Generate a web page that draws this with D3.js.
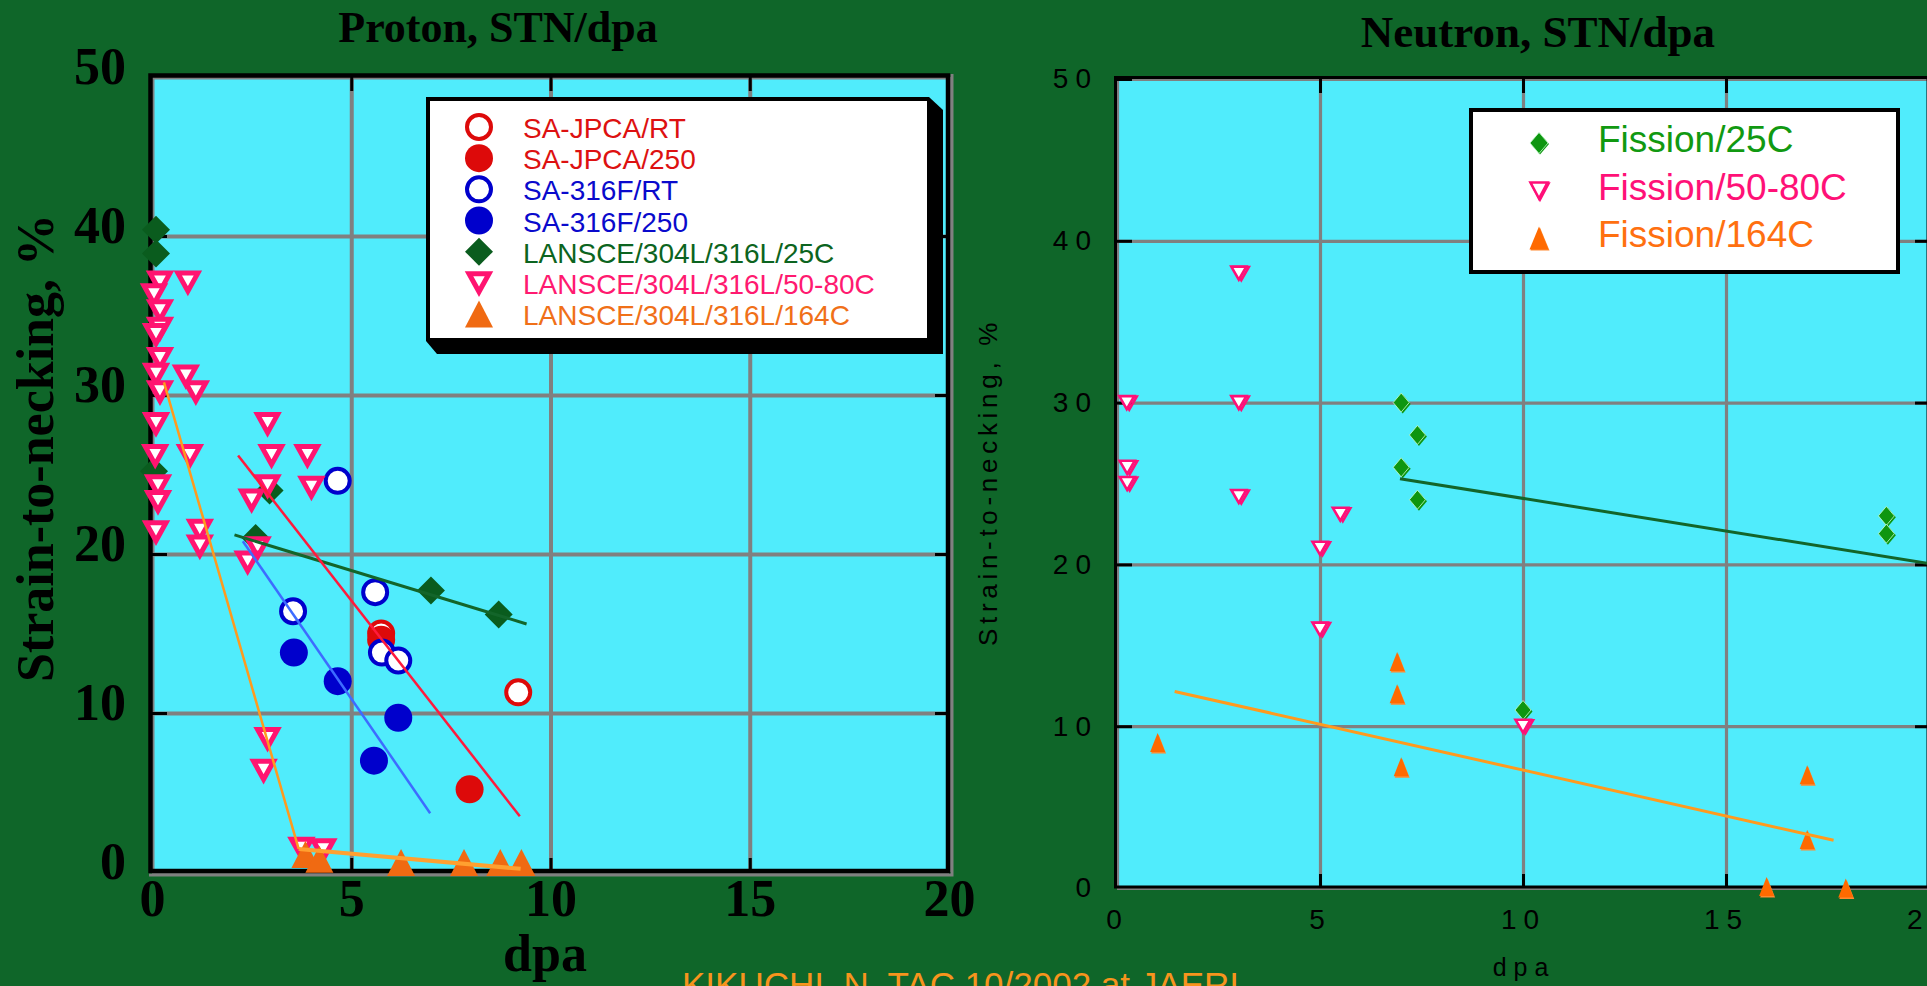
<!DOCTYPE html>
<html>
<head>
<meta charset="utf-8">
<script src="https://cdn.jsdelivr.net/npm/d3@7"></script>
<style>
  html, body { margin: 0; padding: 0; background: #0f6629; }
  svg { display: block; }
</style>
</head>
<body>
<svg id="chart" width="1927" height="986"></svg>
<script>
// ---------------- data ----------------
const xTicks = [0, 5, 10, 15, 20];
const yTicks = [0, 10, 20, 30, 40, 50];

// Proton irradiation, [dpa, strain-to-necking %]
const saJpcaRT  = [[5.75, 15.0], [9.19, 11.3]];
const saJpca250 = [[5.75, 14.6], [7.97, 5.2]];
const sa316fRT  = [[4.66, 24.6], [5.6, 17.6], [3.54, 16.4], [5.77, 13.8], [6.18, 13.3]];
const sa316f250 = [[3.56, 13.8], [4.66, 12.0], [6.18, 9.7], [5.57, 7.0]];
const lansce25  = [[0.1, 40.4], [0.1, 38.9], [0.05, 25.2], [2.95, 24.0], [2.6, 21.0], [7.0, 17.7], [8.7, 16.2]];
const lansce5080 = [
  [0.2, 37.1], [0.9, 37.1], [0.05, 36.3], [0.2, 35.3], [0.2, 34.2], [0.1, 33.8],
  [0.2, 32.3], [0.1, 31.3], [0.85, 31.2], [1.1, 30.2], [0.2, 30.2], [0.1, 28.2],
  [2.9, 28.2], [0.08, 26.2], [0.95, 26.2], [3.0, 26.2], [3.9, 26.2], [0.15, 24.3],
  [2.9, 24.3], [4.0, 24.2], [2.5, 23.4], [0.15, 23.3], [0.1, 21.4], [1.2, 21.5],
  [1.2, 20.5], [2.65, 20.4], [2.4, 19.5], [2.9, 8.4], [2.8, 6.4], [3.75, 1.5], [4.3, 1.4]
];
const lansce164 = [[3.85, 1.1], [4.2, 0.8], [6.25, 0.6], [7.83, 0.6], [8.74, 0.6], [9.27, 0.6]];

// Proton trend lines (end points)
const fitLansce25  = [[2.07, 21.2], [9.4, 15.6]];
const fitSa316f    = [[2.28, 20.8], [6.98, 3.7]];
const fitSaJpca    = [[2.16, 26.2], [9.23, 3.5]];
const fitLowTemp   = [[0.3, 30.8], [3.68, 1.45]];
const fitLansce164 = [[3.68, 1.45], [9.25, 0.2]];

// Fission neutron irradiation, [dpa, strain-to-necking %]
const fission25   = [[7.0, 30.0], [7.4, 28.0], [7.0, 26.0], [7.4, 24.0], [18.95, 23.0], [18.95, 21.9], [10.0, 11.0]];
const fission5080 = [[0.24, 30.0], [3.0, 30.0], [3.0, 38.0], [0.25, 26.0], [0.25, 25.0], [3.0, 24.2],
                     [5.5, 23.1], [5.0, 21.0], [5.0, 16.0], [10.0, 10.0]];
const fission164  = [[1.0, 9.0], [6.9, 14.0], [6.9, 12.0], [7.0, 7.5], [17.0, 7.0], [17.0, 3.0], [16.0, 0.1], [17.95, 0.0]];

// Neutron trend lines
const fitFission25  = [[6.97, 25.3], [20, 20.05]];
const fitFission164 = [[1.42, 12.15], [17.65, 2.95]];

const protonLegend  = ["SA-JPCA/RT", "SA-JPCA/250", "SA-316F/RT", "SA-316F/250",
                       "LANSCE/304L/316L/25C", "LANSCE/304L/316L/50-80C", "LANSCE/304L/316L/164C"];
const neutronLegend = ["Fission/25C", "Fission/50-80C", "Fission/164C"];

// ---------------- setup ----------------
const svg = d3.select("#chart");
const SERIF = "'Liberation Serif', 'Times New Roman', serif";
const SANS = "'Liberation Sans', Arial, sans-serif";

const xL = d3.scaleLinear().domain([0, 20]).range([152, 949]);
const yL = d3.scaleLinear().domain([0, 50]).range([872, 77]);
const xR = d3.scaleLinear().domain([0, 20]).range([1117, 1929]);
const yR = d3.scaleLinear().domain([0, 50]).range([888, 79]);

const shape = {
  circle: r => `M${-r},0A${r},${r} 0 1,0 ${r},0A${r},${r} 0 1,0 ${-r},0Z`,
  diamond: (w, h) => `M0,${-h}L${w},0L0,${h}L${-w},0Z`,
  triDown: (w, h) => `M${-w},${-h}L${w},${-h}L0,${h}Z`,
  triUp: (w, h) => `M${-w},${h}L${w},${h}L0,${-h}Z`
};

// marker styles for the proton panel
const pStyles = [
  { d: shape.circle(12),      fill: "#ffffff", stroke: "#dd0a0a", sw: 4,   text: "#dd1111" },
  { d: shape.circle(14),      fill: "#dd0a0a", stroke: "none",    sw: 0,   text: "#dd1111" },
  { d: shape.circle(12),      fill: "#ffffff", stroke: "#0000cc", sw: 4,   text: "#0a0acc" },
  { d: shape.circle(14),      fill: "#0000cc", stroke: "none",    sw: 0,   text: "#0a0acc" },
  { d: shape.diamond(14, 14), fill: "#0a5c1e", stroke: "none",    sw: 0,   text: "#0c6420" },
  { d: shape.triDown(10, 9),  fill: "#ffffff", stroke: "#ff1470", sw: 5,   text: "#ff1a70" },
  { d: shape.triUp(14, 13.5), fill: "#f06a12", stroke: "none",    sw: 0,   text: "#f07018" }
];
const pSeries = [saJpcaRT, saJpca250, sa316fRT, sa316f250, lansce25, lansce5080, lansce164];

function panel(x, y, o) {
  const g = svg.append("g");
  const [x0, x1] = x.range(), [y0, y1] = y.range();
  const w = x1 - x0, h = y0 - y1;
  g.append("rect").attr("x", x0).attr("y", y1).attr("width", w).attr("height", h).attr("fill", "#50ecfc");

  const styleGrid = a => {
    a.select(".domain").remove();
    a.selectAll("line").attr("stroke", "#808080").attr("stroke-width", o.grid);
  };
  g.append("g").attr("transform", `translate(0,${y0})`)
    .call(d3.axisBottom(x).tickValues(xTicks).tickSize(-h).tickFormat(""))
    .call(styleGrid);
  g.append("g").attr("transform", `translate(${x0},0)`)
    .call(d3.axisLeft(y).tickValues(yTicks).tickSize(-w).tickFormat(""))
    .call(styleGrid);
  return g;
}

function frame(g, x, y, o) {
  const [x0, x1] = x.range(), [y0, y1] = y.range();
  if (o.shade) {
    g.append("path").attr("d", `M${x0 - 3},${y0 + 3}H${x1 + 3}V${y1 - 3}`)
      .attr("fill", "none").attr("stroke", "#808080").attr("stroke-width", 3);
  }
  g.append("rect").attr("x", x0 - 1.5).attr("y", y1 - 1.5).attr("width", x1 - x0 + 0.5).attr("height", y0 - y1 + 0.5)
    .attr("fill", "none").attr("stroke", "#000").attr("stroke-width", o.frame);

  const styleTick = a => {
    a.select(".domain").remove();
    a.selectAll("line").attr("stroke", "#000").attr("stroke-width", 3);
  };
  const inner = [5, 10, 15], innerY = [10, 20, 30, 40];
  g.append("g").attr("transform", `translate(0,${y1})`)
    .call(d3.axisTop(x).tickValues(inner).tickSize(-14).tickFormat("")).call(styleTick);
  g.append("g").attr("transform", `translate(0,${y0})`)
    .call(d3.axisBottom(x).tickValues(inner).tickSize(-14).tickFormat("")).call(styleTick);
  g.append("g").attr("transform", `translate(${x0},0)`)
    .call(d3.axisLeft(y).tickValues(o.leftTicks || innerY).tickSize(-15).tickFormat("")).call(styleTick);
  g.append("g").attr("transform", `translate(${x1},0)`)
    .call(d3.axisRight(y).tickValues(innerY).tickSize(-14).tickFormat("")).call(styleTick);
}

function line(g, x, y, pts, color, width) {
  g.append("path")
    .attr("d", d3.line().x(d => x(d[0])).y(d => y(d[1]))(pts))
    .attr("fill", "none").attr("stroke", color).attr("stroke-width", width);
}

// ---------------- proton panel ----------------
const gL = panel(xL, yL, { grid: 4 });
frame(gL, xL, yL, { frame: 4.5, shade: true });

pSeries.forEach((data, i) => {
  const s = pStyles[i];
  gL.append("g").selectAll("path").data(data).join("path")
    .attr("transform", d => `translate(${xL(d[0])},${yL(d[1])})`)
    .attr("d", s.d).attr("fill", s.fill).attr("stroke", s.stroke)
    .attr("stroke-width", s.sw).attr("stroke-linejoin", "miter");
});

line(gL, xL, yL, fitLansce25, "#13652a", 3);
line(gL, xL, yL, fitSa316f, "#3d6cff", 2.5);
line(gL, xL, yL, fitSaJpca, "#ff1a3c", 2.5);
line(gL, xL, yL, fitLowTemp, "#ff9a1e", 2.5);
line(gL, xL, yL, fitLansce164, "#ffa030", 4);

// tick labels
gL.append("g").attr("transform", `translate(${xL.range()[0]},0)`)
  .call(d3.axisLeft(yL).tickValues(yTicks).tickSize(0).tickPadding(26))
  .call(a => {
    a.select(".domain").remove();
    a.selectAll("text").attr("dy", "0.13em").attr("fill", "#000")
      .style("font-family", SERIF).style("font-weight", "bold").style("font-size", "52px");
  });
gL.append("g").attr("transform", `translate(0,${yL.range()[0]})`)
  .call(d3.axisBottom(xL).tickValues(xTicks).tickSize(0).tickPadding(7))
  .call(a => {
    a.select(".domain").remove();
    a.selectAll("text").attr("fill", "#000")
      .style("font-family", SERIF).style("font-weight", "bold").style("font-size", "52px");
  });

svg.append("text").attr("x", 498).attr("y", 42).attr("text-anchor", "middle")
  .style("font-family", SERIF).style("font-weight", "bold").style("font-size", "44px")
  .text("Proton, STN/dpa");
svg.append("text").attr("x", 545).attr("y", 971).attr("text-anchor", "middle")
  .style("font-family", SERIF).style("font-weight", "bold").style("font-size", "52px")
  .text("dpa");
svg.append("text").attr("transform", "translate(53,448) rotate(-90)").attr("text-anchor", "middle")
  .style("font-family", SERIF).style("font-weight", "bold").style("font-size", "52px")
  .text("Strain-to-necking, %");

// proton legend
const lg = svg.append("g");
lg.append("path").attr("d", "M426,97H929L943,110V354H437L426,341Z").attr("fill", "#000");
lg.append("rect").attr("x", 430).attr("y", 101).attr("width", 497).attr("height", 237).attr("fill", "#fff");
const rowY = d3.scalePoint().domain(d3.range(protonLegend.length)).range([127, 314]);
protonLegend.forEach((label, i) => {
  const s = pStyles[i];
  lg.append("path").attr("transform", `translate(479,${rowY(i)})`)
    .attr("d", s.d).attr("fill", s.fill).attr("stroke", s.stroke).attr("stroke-width", s.sw);
  lg.append("text").attr("x", 523).attr("y", rowY(i) + 11).attr("fill", s.text)
    .style("font-family", SANS).style("font-size", "28px").text(label);
});

// ---------------- neutron panel ----------------
const gR = panel(xR, yR, { grid: 3.2 });
frame(gR, xR, yR, { frame: 3, shade: false, leftTicks: [10, 20, 30, 40, 50] });

const nStyles = [
  { d: shape.diamond(8, 9.5), fill: "#0e9610", copy: "#0e9610", dx: 1.5, dy: 1.5, stroke: "#c8ffd0", sw: 0.8, text: "#119911" },
  { d: shape.triDown(7.5, 6.5), fill: "#ffffff", copy: "none", dx: 2.5, dy: 0.5, stroke: "#ff0f78", sw: 2.6, text: "#ff1177" },
  { d: shape.triUp(7.5, 9.5), fill: "#ff6a00", copy: "#ff8a30", dx: 1, dy: 1.5, stroke: "none", sw: 0, text: "#ff7010" }
];
const nSeries = [fission25, fission5080, fission164];

function nMarker(sel, s) {
  sel.append("path").attr("d", s.d).attr("transform", `translate(${s.dx},${s.dy})`)
    .attr("fill", s.copy).attr("stroke", s.copy === "none" ? s.stroke : "none").attr("stroke-width", s.sw);
  sel.append("path").attr("d", s.d).attr("fill", s.fill).attr("stroke", s.stroke).attr("stroke-width", s.sw);
}

nSeries.forEach((data, i) => {
  const s = nStyles[i];
  gR.append("g").selectAll("g").data(data).join("g")
    .attr("transform", d => `translate(${xR(d[0])},${yR(d[1])})`)
    .each(function () { nMarker(d3.select(this), s); });
});

line(gR, xR, yR, fitFission25, "#13652a", 3);
line(gR, xR, yR, fitFission164, "#ff9a1e", 3);

gR.append("g").attr("transform", `translate(${xR.range()[0]},0)`)
  .call(d3.axisLeft(yR).tickValues(yTicks).tickSize(0).tickPadding(19))
  .call(a => {
    a.select(".domain").remove();
    a.selectAll("text").attr("fill", "#000")
      .style("font-family", SANS).style("font-size", "28px").style("letter-spacing", "7px");
  });
gR.append("g").attr("transform", `translate(0,${yR.range()[0]})`)
  .call(d3.axisBottom(xR).tickValues(xTicks).tickSize(0).tickPadding(21))
  .call(a => {
    a.select(".domain").remove();
    a.selectAll("text").attr("fill", "#000")
      .style("font-family", SANS).style("font-size", "28px").style("letter-spacing", "7px");
  });

svg.append("text").attr("x", 1538).attr("y", 47).attr("text-anchor", "middle")
  .style("font-family", SERIF).style("font-weight", "bold").style("font-size", "45px")
  .text("Neutron, STN/dpa");
svg.append("text").attr("x", 1524).attr("y", 976).attr("text-anchor", "middle")
  .style("font-family", SANS).style("font-size", "25px").style("letter-spacing", "7px")
  .text("dpa");
svg.append("text").attr("transform", "translate(997,482) rotate(-90)").attr("text-anchor", "middle")
  .style("font-family", SANS).style("font-size", "26px").style("letter-spacing", "4.7px")
  .text("Strain-to-necking, %");

// neutron legend
const rg = svg.append("g");
rg.append("rect").attr("x", 1471).attr("y", 110).attr("width", 427).attr("height", 162)
  .attr("fill", "#fff").attr("stroke", "#000").attr("stroke-width", 4);
const rRowY = d3.scalePoint().domain(d3.range(neutronLegend.length)).range([143, 238]);
const legendMarker = [
  { d: shape.diamond(9, 10.5) },
  { d: shape.triDown(8.5, 8) },
  { d: shape.triUp(9.5, 11.5) }
];
neutronLegend.forEach((label, i) => {
  const s = Object.assign({}, nStyles[i], legendMarker[i], { dx: 1, dy: 1 });
  nMarker(rg.append("g").attr("transform", `translate(1539,${rRowY(i)})`), s);
  rg.append("text").attr("x", 1598).attr("y", rRowY(i) + 9).attr("fill", s.text)
    .style("font-family", SANS).style("font-size", "37px").text(label);
});

// credit line
svg.append("text").attr("x", 682).attr("y", 997).attr("fill", "#f7941d")
  .style("font-family", SANS).style("font-size", "35px")
  .text("KIKUCHI, N. TAC 10/2002 at JAERI");
</script>
</body>
</html>
